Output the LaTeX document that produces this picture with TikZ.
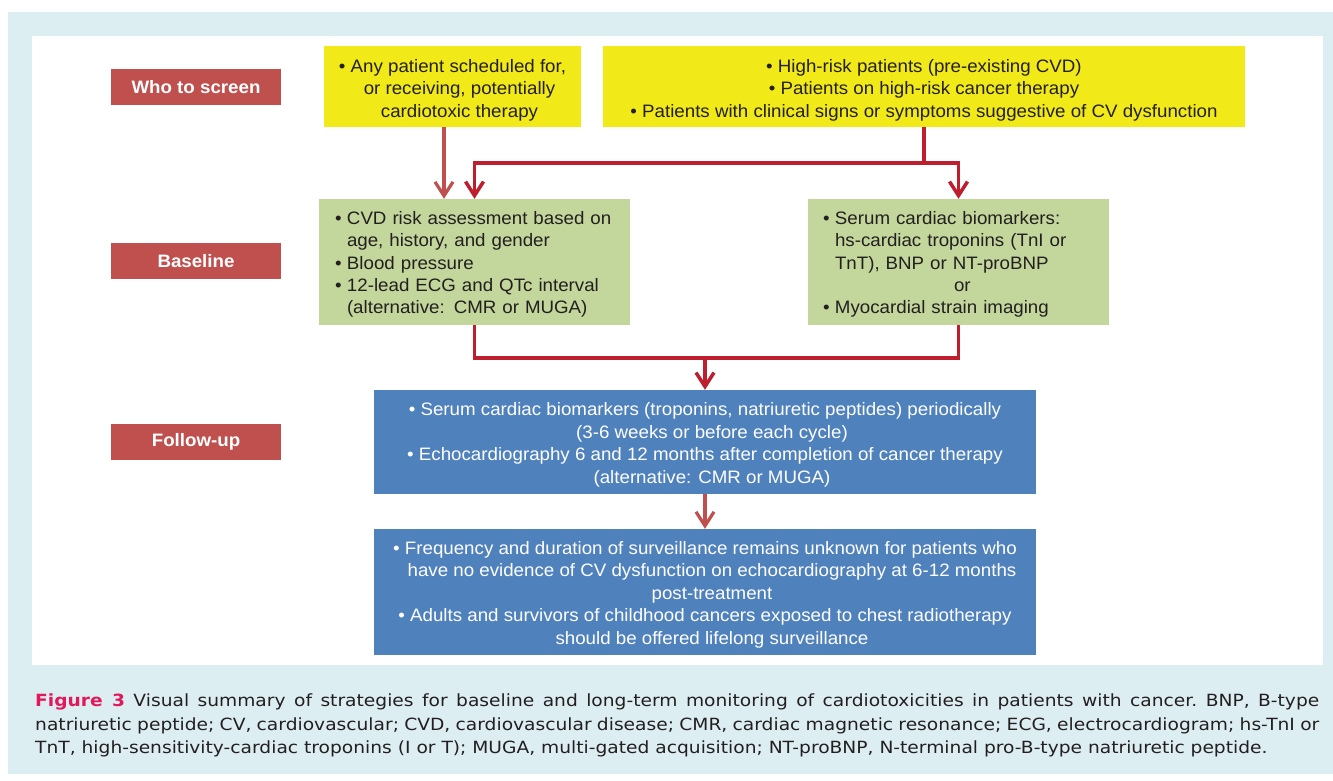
\documentclass[tikz,border=0pt]{standalone}
\usepackage{fontspec}
\setmainfont{Liberation Sans}[FakeStretch=1.04]
\newfontfamily\capfont{DejaVu Sans}[FakeStretch=1.11]
\usetikzlibrary{arrows.meta,calc}
\definecolor{panel}{RGB}{221,238,243}
\definecolor{labred}{RGB}{192,80,77}
\definecolor{yel}{RGB}{242,234,24}
\definecolor{grn}{RGB}{195,214,155}
\definecolor{blu}{RGB}{79,129,189}
\definecolor{darkred}{RGB}{190,30,45}
\definecolor{txt}{RGB}{35,31,32}
\definecolor{figred}{RGB}{225,25,90}
\newcommand\bul{\makebox[12pt][l]{•}}
\newcommand\cnt{\hspace*{14pt}}
\begin{document}
\begin{tikzpicture}[x=1pt,y=-1pt,
  lab/.style={fill=labred,text=white,font=\bfseries\fontsize{18}{22}\selectfont,minimum width=170pt,minimum height=36pt,inner sep=0pt},
  boxshape/.style={inner sep=0pt},
  ctext/.style={inner sep=0pt,align=center,font=\fontsize{18}{22.5}\selectfont,text=txt},
  ltext/.style={inner sep=0pt,align=left,font=\fontsize{18}{22.3}\selectfont,text=txt},
  darr/.style={line width=3.5pt,draw=darkred,-{Straight Barb[length=14pt,width=18pt]}},
  dline/.style={line width=3.5pt,draw=darkred},
  larr/.style={line width=3.2pt,draw=labred,-{Straight Barb[length=14pt,width=18pt]}}
]
\useasboundingbox (0,0) rectangle (1333,780);
\fill[white] (0,0) rectangle (1333,780);
\fill[panel] (8,12) rectangle (1333,774);
\fill[white] (32,36) rectangle (1323,665);

% labels
\node[lab] (who) at (196,87) {Who to screen};
\node[lab] (base) at (196,261) {Baseline};
\node[lab] (fol) at (196,442) {Follow-up};

% boxes
\node[boxshape,fill=yel,minimum width=257pt,minimum height=81pt] (y1) at (452.5,86.5) {};
\node[boxshape,fill=yel,minimum width=642pt,minimum height=81pt] (y2) at (924,86.5) {};
\node[boxshape,fill=grn,minimum width=311pt,minimum height=126pt] (g1) at (474.5,262) {};
\node[boxshape,fill=grn,minimum width=301pt,minimum height=126pt] (g2) at (958.5,262) {};
\node[boxshape,fill=blu,minimum width=662pt,minimum height=104pt] (b1) at (705,442) {};
\node[boxshape,fill=blu,minimum width=662pt,minimum height=126pt] (b2) at (705,592) {};

% texts
\node[ctext] (y1t) at ($(y1)+(0,3.5)$)
  {• Any patient scheduled for,\\ \cnt or receiving, potentially\\ \cnt cardiotoxic therapy};
\node[ctext] (y2t) at ($(y2)+(0,3.5)$)
  {• High-risk patients (pre-existing CVD)\\ • Patients on high-risk cancer therapy\\ • Patients with clinical signs or symptoms suggestive of CV dysfunction};
\node[ltext,text width=279pt] (g1t) at ($(g1)+(0,2.5)$)
  {\bul CVD risk assessment based on\\ \hspace*{12pt}age, history, and gender\\ \bul Blood pressure\\ \bul 12-lead ECG and QTc interval\\ \hspace*{12pt}(alternative: CMR or MUGA)};
\node[ltext,text width=271pt] (g2t) at ($(g2)+(0,2.5)$)
  {\bul Serum cardiac biomarkers:\\ \hspace*{12pt}hs-cardiac troponins (TnI or\\ \hspace*{12pt}TnT), BNP or NT-proBNP\\ \hspace*{131pt}or\\ \bul Myocardial strain imaging};
\node[ctext,text=white] (b1t) at ($(b1)+(0,3)$)
  {• Serum cardiac biomarkers (troponins, natriuretic peptides) periodically\\ \cnt(3-6 weeks or before each cycle)\\ • Echocardiography 6 and 12 months after completion of cancer therapy\\ \cnt(alternative: CMR or MUGA)};
\node[ctext,text=white] (b2t) at ($(b2)+(0,2.5)$)
  {• Frequency and duration of surveillance remains unknown for patients who\\ \cnt have no evidence of CV dysfunction on echocardiography at 6-12 months\\ \cnt post-treatment\\ • Adults and survivors of childhood cancers exposed to chest radiotherapy\\ \cnt should be offered lifelong surveillance};

% connectors
\coordinate (split) at (924,163);
\coordinate (join) at (705,358);
\draw[larr] ([xshift=-8.5pt]y1.south) -- ([xshift=-8.5pt]y1.south |- g1.north);
\draw[dline] (y2.south) -- (split);
\draw[darr] (split) -| (g1.north);
\draw[darr] (split) -| (g2.north);
\draw[dline] (g1.south) |- (join);
\draw[dline] (g2.south) |- (join);
\draw[darr] (join) -- (b1.north);
\draw[larr] (b1.south) -- (b2.north);

% caption
\node[anchor=north west,inner sep=0pt,text width=1284pt,align=justify,text=txt,
  font=\capfont\fontsize{16.8}{23.5}\selectfont\frenchspacing] (cap) at (35,694)
  {{\color{figred}\bfseries Figure 3} Visual summary of strategies for baseline and long-term monitoring of cardiotoxicities in patients with cancer. BNP, B-type\linebreak natriuretic peptide; CV, cardiovascular; CVD, cardiovascular disease; CMR, cardiac magnetic resonance; ECG, electrocardiogram; hs-TnI or\linebreak TnT, high-sensitivity-cardiac troponins (I or T); MUGA, multi-gated acquisition; NT-proBNP, N-terminal pro-B-type natriuretic peptide.};
\end{tikzpicture}
\end{document}
